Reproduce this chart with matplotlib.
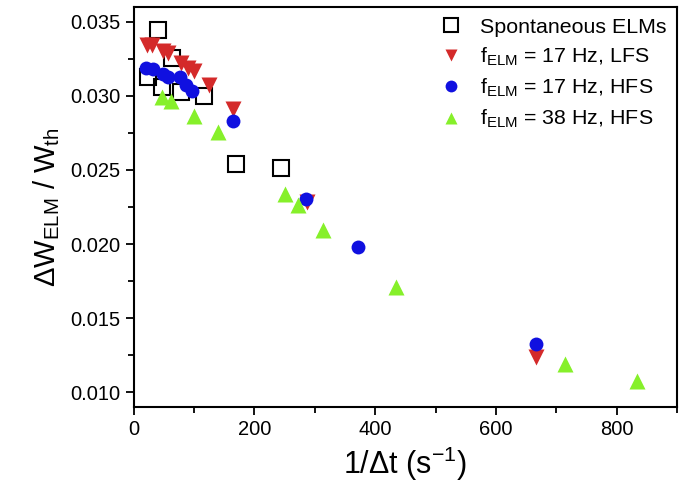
import matplotlib
matplotlib.use('Agg')
import matplotlib.pyplot as plt
from matplotlib.ticker import MultipleLocator

plt.rcParams['font.family'] = ['Liberation Sans', 'DejaVu Sans']
plt.rcParams['mathtext.fontset'] = 'custom'
plt.rcParams['mathtext.rm'] = 'Liberation Sans'
plt.rcParams['mathtext.it'] = 'Liberation Sans'

# spontaneous ELMs
spont_x = [40, 63, 24, 46, 79, 117, 170, 244]
spont_y = [0.03446, 0.03253, 0.03125, 0.03057, 0.03024, 0.0300, 0.02543, 0.02511]

# f_ELM = 17 Hz, LFS
lfs17_x = [22, 30, 48, 57, 78, 90, 100, 125, 165, 287, 667]
lfs17_y = [0.0334, 0.0334, 0.0330, 0.0329, 0.0322, 0.0319, 0.0317, 0.0307, 0.0291, 0.02282, 0.01238]

# f_ELM = 17 Hz, HFS
hfs17_x = [21, 32, 48, 57, 76, 87, 96, 164, 286, 371, 667]
hfs17_y = [0.0319, 0.0318, 0.03148, 0.03125, 0.03125, 0.0307, 0.03035, 0.02828, 0.02305, 0.01979, 0.01328]

# f_ELM = 38 Hz, HFS
hfs38_x = [46, 62, 99, 139, 250, 272, 313, 435, 715, 834]
hfs38_y = [0.0299, 0.02967, 0.02867, 0.02759, 0.02339, 0.0226, 0.02096, 0.0171, 0.01193, 0.01074]

fig = plt.figure(figsize=(6.93, 4.91), dpi=100)
ax = fig.add_axes([0.193, 0.171, 0.784, 0.815])

ax.plot(spont_x, spont_y, 's', ms=12, mfc='none', mec='black', mew=1.5, label='Spontaneous ELMs')
ax.plot(lfs17_x, lfs17_y, 'v', ms=11, color='#d42a2a', mec='none', label='f$_{\\rm ELM}$ = 17 Hz, LFS')
ax.plot(hfs17_x, hfs17_y, 'o', ms=10, color='#1010e0', mec='none', label='f$_{\\rm ELM}$ = 17 Hz, HFS')
ax.plot(hfs38_x, hfs38_y, '^', ms=11, color='#86f02a', mec='none', label='f$_{\\rm ELM}$ = 38 Hz, HFS')

ax.set_xlim(0, 900)
ax.set_ylim(0.009, 0.036)
ax.xaxis.set_major_locator(MultipleLocator(200))
ax.xaxis.set_minor_locator(MultipleLocator(100))
ax.yaxis.set_major_locator(MultipleLocator(0.005))
ax.yaxis.set_minor_locator(MultipleLocator(0.0025))
ax.yaxis.set_major_formatter(plt.FormatStrFormatter('%.3f'))
ax.tick_params(which='both', direction='out', labelsize=14.5, width=1.3)
ax.tick_params(which='major', length=6)
ax.tick_params(which='minor', length=4)
for s in ax.spines.values():
    s.set_linewidth(1.5)

ax.set_xlabel('1/$\\Delta$t (s$^{-1}$)', fontsize=22)
ax.set_ylabel('$\\Delta$W$_{\\rm ELM}$ / W$_{\\rm th}$', fontsize=21, labelpad=6)

ax.legend(loc='upper right', frameon=False, fontsize=15.4, handletextpad=0.55,
          labelspacing=0.42, borderaxespad=0.1, markerscale=0.85, handlelength=1.6)

fig.savefig('out.png', dpi=100)
